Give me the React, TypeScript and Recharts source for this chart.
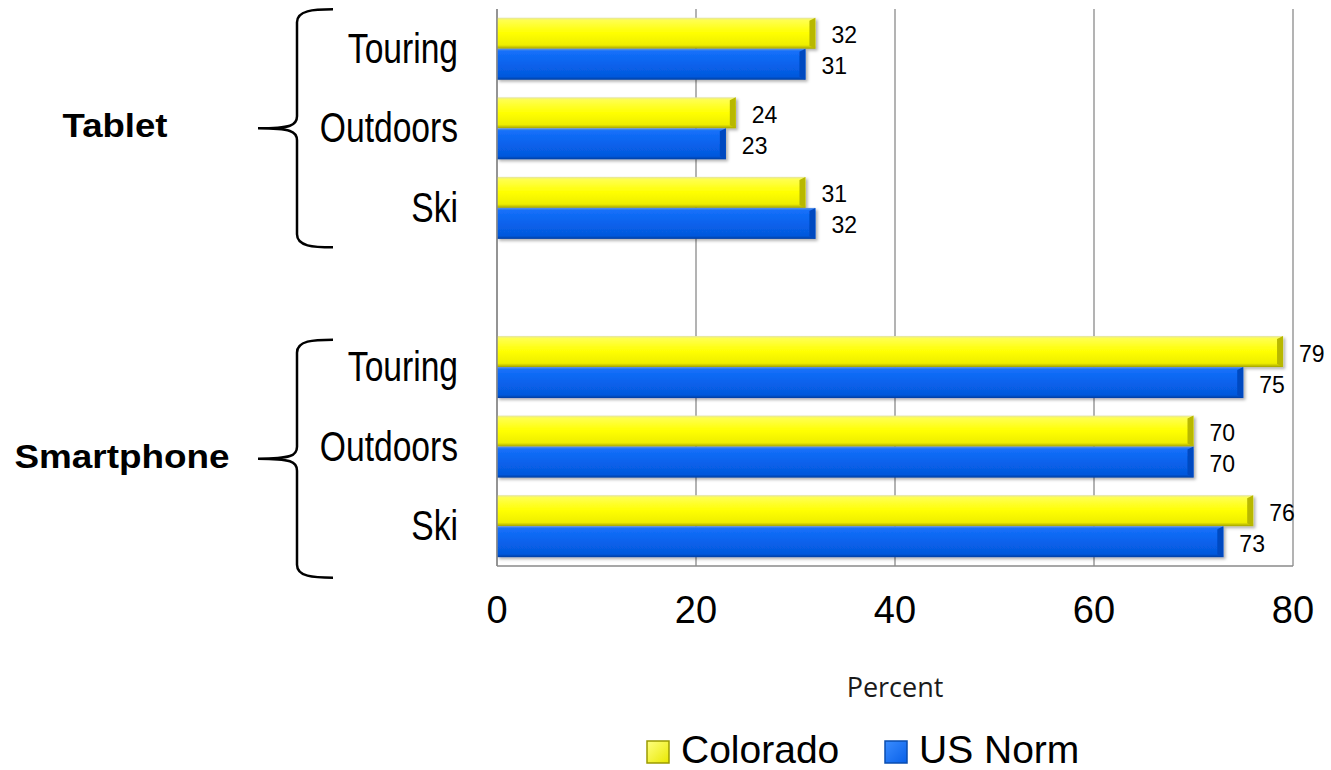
import React from 'react';
import { BarChart, Bar, XAxis, YAxis, CartesianGrid, LabelList } from 'recharts';

// Survey data: share of respondents using each device, by segment
const categories = ['Touring', 'Outdoors', 'Ski', '', 'Touring', 'Outdoors', 'Ski'];
const coloradoValues = [32, 24, 31, null, 79, 70, 76];
const usNormValues = [31, 23, 32, null, 75, 70, 73];
const xTicks = [0, 20, 40, 60, 80];
const groupLabels = ['Tablet', 'Smartphone'];
const groupCenters = [1, 5]; // category index the brace points at
const seriesNames = ['Colorado', 'US Norm'];

const data = categories.map((name, i) => ({
  key: `c${i}`,
  name,
  colorado: coloradoValues[i],
  usNorm: usNormValues[i],
}));

const ARIAL = "'Liberation Sans', Arial, sans-serif";

// brace tweaks per group (the smartphone brace sits a bit lower)
const braceShift = [0, 12];
const labelWidth = [105, 215];
const labelX = [115, 122];

const CategoryTick = (props: any) => {
  const { y, payload } = props;
  const idx = parseInt(String(payload.value).slice(1), 10);
  const label = categories[idx];
  const g = groupCenters.indexOf(idx);
  let brace = null;
  if (g >= 0) {
    const cy = y + braceShift[g];
    const d = `M333,${cy - 119} C313,${cy - 119} 297,${cy - 118} 297,${cy - 106}
      L297,${cy - 12} C297,${cy - 3} 291,${cy} 258,${cy}
      C291,${cy} 297,${cy + 3} 297,${cy + 12}
      L297,${cy + 106} C297,${cy + 118} 313,${cy + 119} 333,${cy + 119}`;
    brace = (
      <g>
        <path d={d} fill="none" stroke="#000" strokeWidth={2.5} />
        <text
          x={labelX[g]}
          y={cy + 9}
          textAnchor="middle"
          fontFamily={ARIAL}
          fontWeight="bold"
          fontSize={33}
          textLength={labelWidth[g]}
          lengthAdjust="spacingAndGlyphs"
          fill="#000"
        >
          {groupLabels[g]}
        </text>
      </g>
    );
  }
  return (
    <g>
      {brace}
      {label ? (
        // condensed look of the original labels
        <text
          transform={`translate(458, ${y + 14}) scale(0.8, 1)`}
          textAnchor="end"
          fontFamily={ARIAL}
          fontSize={42}
          fill="#000"
        >
          {label}
        </text>
      ) : null}
    </g>
  );
};

const ValueTick = (props: any) => {
  const { x, y, payload } = props;
  return (
    <text x={x} y={y + 57} textAnchor="middle" fontFamily={ARIAL} fontSize={38} fill="#000">
      {payload.value}
    </text>
  );
};

const Bar3D = (props: any) => {
  const { x, y, width, height, grad, cap } = props;
  if (!width || width <= 0) return null;
  const c = Math.min(6, width / 2);
  return (
    <g filter="url(#barShadow)">
      <rect x={x} y={y} width={width} height={height} fill={`url(#${grad})`} />
      <polygon
        points={`${x + width - c},${y + 3} ${x + width},${y} ${x + width},${y + height} ${x + width - c},${y + height - 3}`}
        fill={cap}
      />
    </g>
  );
};

const ValueLabel = (props: any) => {
  const { x, y, width, height, value } = props;
  if (value === null || value === undefined) return null;
  return (
    <text x={x + width + 16} y={y + height / 2 + 10} fontFamily={ARIAL} fontSize={23} fill="#000">
      {value}
    </text>
  );
};

const PercentLabel = (props: any) => {
  const { viewBox } = props;
  return (
    <text
      x={viewBox.x + viewBox.width / 2}
      y={viewBox.y + 131}
      textAnchor="middle"
      fontFamily="'Open Sans', 'Noto Sans', sans-serif"
      fontSize={27}
      fill="#1a1a1a"
    >
      Percent
    </text>
  );
};

const Gradients = () => (
  <defs>
    <linearGradient id="gYellow" x1="0" y1="0" x2="0" y2="1">
      <stop offset="0%" stopColor="#e4e4a4" />
      <stop offset="8%" stopColor="#ffff50" />
      <stop offset="50%" stopColor="#ffff00" />
      <stop offset="88%" stopColor="#eeee00" />
      <stop offset="100%" stopColor="#a3a300" />
    </linearGradient>
    <linearGradient id="gBlue" x1="0" y1="0" x2="0" y2="1">
      <stop offset="0%" stopColor="#5f92e0" />
      <stop offset="8%" stopColor="#1570fa" />
      <stop offset="50%" stopColor="#0862ec" />
      <stop offset="90%" stopColor="#0558dc" />
      <stop offset="100%" stopColor="#003ea0" />
    </linearGradient>
    <filter id="barShadow" x="-5%" y="-20%" width="110%" height="150%">
      <feDropShadow dx="2" dy="2" stdDeviation="1.5" floodColor="#000" floodOpacity="0.3" />
    </filter>
  </defs>
);

const App: React.FC = () => {
  return (
    <div style={{ position: 'absolute', left: 0, top: 0, width: 1331, height: 770, background: '#fff' }}>
      <BarChart
        width={1331}
        height={770}
        data={data}
        layout="vertical"
        margin={{ top: 9, right: 38, bottom: 0, left: 0 }}
        barCategoryGap="11%"
        barGap={0}
      >
        <Gradients />
        <CartesianGrid horizontal={false} stroke="#8a8a8a" strokeWidth={1.3} />
        <XAxis
          type="number"
          domain={[0, 80]}
          ticks={xTicks}
          height={204}
          tickLine={false}
          tickSize={0}
          tickMargin={0}
          axisLine={{ stroke: '#8a8a8a', strokeWidth: 1.5 }}
          tick={<ValueTick />}
          label={<PercentLabel />}
          interval={0}
        />
        <YAxis
          type="category"
          dataKey="key"
          width={497}
          tickLine={false}
          axisLine={{ stroke: '#8a8a8a', strokeWidth: 1.5 }}
          tick={<CategoryTick />}
          interval={0}
        />
        <Bar
          dataKey="colorado"
          name={seriesNames[0]}
          isAnimationActive={false}
          shape={(p: any) => <Bar3D {...p} grad="gYellow" cap="#b8b800" />}
        >
          <LabelList dataKey="colorado" content={<ValueLabel />} />
        </Bar>
        <Bar
          dataKey="usNorm"
          name={seriesNames[1]}
          isAnimationActive={false}
          shape={(p: any) => <Bar3D {...p} grad="gBlue" cap="#0048c0" />}
        >
          <LabelList dataKey="usNorm" content={<ValueLabel />} />
        </Bar>
      </BarChart>
      <svg
        width={1331}
        height={770}
        style={{ position: 'absolute', left: 0, top: 0, pointerEvents: 'none' }}
      >
        <defs>
          <linearGradient id="lgY" x1="0" y1="0" x2="1" y2="1">
            <stop offset="0%" stopColor="#ffff80" />
            <stop offset="100%" stopColor="#e8e800" />
          </linearGradient>
          <linearGradient id="lgB" x1="0" y1="0" x2="1" y2="1">
            <stop offset="0%" stopColor="#3a8cff" />
            <stop offset="100%" stopColor="#0860e8" />
          </linearGradient>
        </defs>
        <rect x={647} y={741} width={22} height={22} fill="url(#lgY)" stroke="#9a9a00" strokeWidth={1.5} />
        <text x={681} y={763} fontFamily={ARIAL} fontSize={39} fill="#000">
          {seriesNames[0]}
        </text>
        <rect x={885} y={741} width={22} height={22} fill="url(#lgB)" stroke="#0a4db0" strokeWidth={1.5} />
        <text x={919} y={763} fontFamily={ARIAL} fontSize={39} fill="#000">
          {seriesNames[1]}
        </text>
      </svg>
    </div>
  );
};

export default App;
